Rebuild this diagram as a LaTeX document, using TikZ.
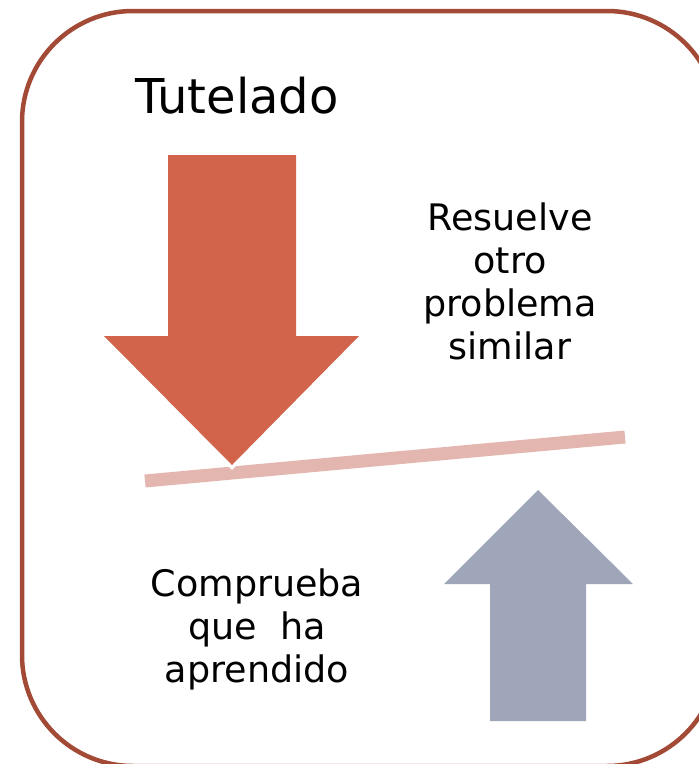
\documentclass[tikz,border=0pt]{standalone}
\usepackage{fontspec}
\setmainfont{DejaVu Sans}
\definecolor{frame}{HTML}{A24A36}
\definecolor{downred}{HTML}{D1644A}
\definecolor{barpink}{HTML}{E4B6B0}
\definecolor{upblue}{HTML}{A0A6BA}
\tikzset{
  txt/.style={align=center, font=\fontsize{36.5}{43}\selectfont, inner sep=0pt, anchor=base},
  title/.style={font=\fontsize{48}{56}\selectfont, inner sep=0pt, anchor=base},
}
\begin{document}
\begin{tikzpicture}[x=1pt,y=-1pt]
\useasboundingbox (0,0) rectangle (699,764);
\fill[white] (0,0) rectangle (699,764);
% frame
\draw[frame, line width=4.5pt, rounded corners=111pt] (22,11) rectangle (718,766);
% title
\node[title] (tut) at (237,113) {Tutelado};
% balance bar
\coordinate (barL) at (145,481);
\coordinate (barR) at (625,437);
\draw[barpink, line width=13pt] (barL) -- (barR);
% down arrow: white halo first, then the fill
\def\downarrowpath{(168,155) -- (296,155) -- (296,336) -- (359,336) -- (232,465) -- (104,336) -- (168,336) -- cycle}
\draw[white, line width=7pt, line join=miter] \downarrowpath;
\fill[downred] \downarrowpath;
% up arrow
\fill[upblue]
  (538,490) -- (633,584) -- (586,584) -- (586,721) -- (490,721) -- (490,584) -- (444,584) -- cycle;
% texts (anchor=base is the baseline of the last line)
\node[txt] (res) at (510,359) {Resuelve\\otro\\problema\\similar};
\node[txt] (comp) at (257,682) {Comprueba\\que\ \ ha\\aprendido};
\end{tikzpicture}
\end{document}
